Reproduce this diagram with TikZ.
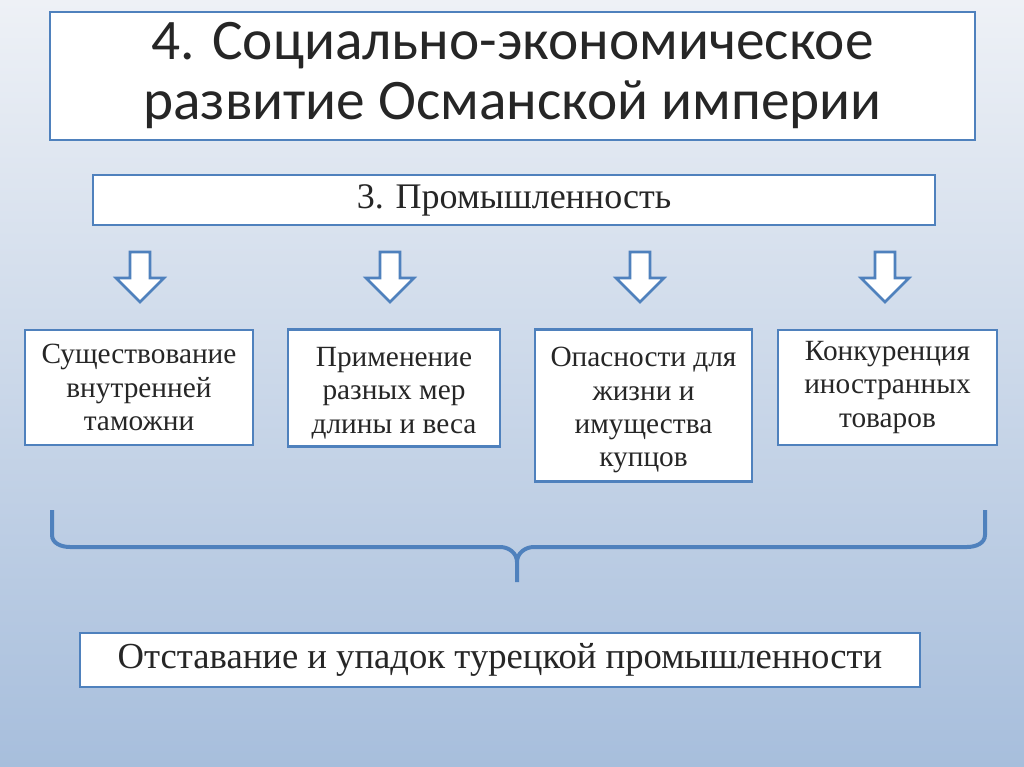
\documentclass[tikz,border=0pt]{standalone}
\usepackage{fontspec}
\setmainfont{Liberation Serif}
\newfontfamily\titlefont{Carlito}
\definecolor{bord}{HTML}{4F81BD}
\definecolor{bg1}{HTML}{EEF1F6}
\definecolor{bg2}{HTML}{A7BEDC}
\begin{document}
\begin{tikzpicture}[x=0.75pt,y=-0.75pt,
 box/.style={draw=bord,line width=2.2pt,fill=white,align=center,font=\fontsize{22}{25}\selectfont,text=black!85,inner sep=0pt},
 darr/.style={draw=bord,line width=2pt,fill=white,line join=miter}]
\shade[top color=bg1,bottom color=bg2] (0,0) rectangle (1024,767);
\useasboundingbox (0,0) rectangle (1024,767);
\node[box,minimum width=925*0.75pt,minimum height=128*0.75pt,font=\titlefont\fontsize{43}{45}\selectfont,text=black!85] (title) at (512.5,76) {4. Социально-экономическое\\развитие Османской империи};
\node[box,minimum width=842*0.75pt,minimum height=50*0.75pt,font=\fontsize{27}{30}\selectfont] (ind) at (514,200) {\raisebox{-3pt}{3. Промышленность}};
\foreach \x/\n in {140/a1,390/a2,640/a3,885/a4}{
  \coordinate (\n) at (\x,252);
  \draw[darr] ([xshift=-10*0.75pt]\n) -- ++(20,0) -- ++(0,26) -- ++(14,0) -- ++(-24,24) -- ++(-24,-24) -- ++(14,0) -- cycle;
}
\node[box,minimum width=228*0.75pt,minimum height=115*0.75pt] (b1) at (139,387.5) {Существование\\внутренней\\таможни};
\node[box,minimum width=212*0.75pt,minimum height=117*0.75pt,anchor=north] (b2) at (394,328) {\rule{0pt}{22pt}Применение\\разных мер\\длины и веса};
\node[box,minimum width=217*0.75pt,minimum height=152*0.75pt,anchor=north] (b3) at (643.5,328) {\rule{0pt}{22pt}Опасности для\\жизни и\\имущества\\купцов};
\node[box,minimum width=219*0.75pt,minimum height=115*0.75pt] (b4) at (887.5,387.5) {Конкуренция\\иностранных\\товаров};
\draw[bord,line width=3pt] (52,510) -- (52,535) to[out=270,in=180] (70,547) -- (500,547) to[out=0,in=90] (517,562) -- (517,582)
  (517,562) to[out=90,in=180] (534,547) -- (967,547) to[out=0,in=270] (985,535) -- (985,510);
\node[box,minimum width=840*0.75pt,minimum height=54*0.75pt,font=\fontsize{27.5}{30}\selectfont] (res) at (500,660) {\raisebox{-3pt}{Отставание и упадок турецкой промышленности}};
\end{tikzpicture}
\end{document}
